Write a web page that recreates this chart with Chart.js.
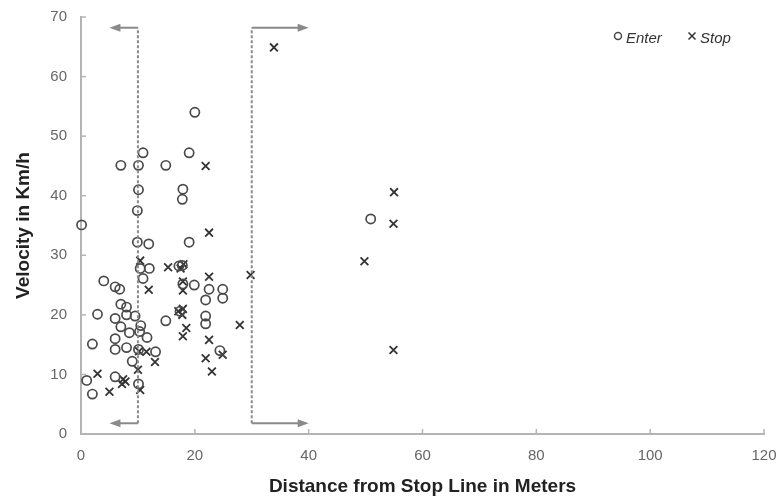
<!DOCTYPE html>
<html>
<head>
<meta charset="utf-8">
<script src="https://cdn.jsdelivr.net/npm/chart.js@4.4.0/dist/chart.umd.min.js"></script>
<style>
  html, body { margin: 0; padding: 0; background: #fff; }
  #wrap { width: 780px; height: 499px; }
</style>
</head>
<body>
<div id="wrap"><canvas id="chart" width="780" height="499"></canvas></div>
<script>
// Enter (cercles)
const enterX = [0.1, 1, 2, 2, 2.9, 4, 6, 6.8, 7, 8, 6, 8, 9.5, 7, 10.5, 8.5, 10.3, 11.6, 6, 6, 8, 10.1, 13.1, 9, 6, 10.1,
  14.9, 9.9, 9.9, 11.9, 10.4, 12, 10.9, 17.2, 17.8, 17.9, 19.9, 22.5, 24.9, 24.9, 21.9, 21.9, 21.9, 19, 24.4, 17.4,
  20, 10.9, 19, 7, 10.1, 14.9, 10.1, 17.9, 17.8, 50.9];
const enterY = [35.1, 9, 6.7, 15.1, 20.1, 25.7, 24.7, 24.3, 21.8, 21.3, 19.4, 20, 19.8, 18, 18.2, 17, 17.2, 16.2, 16, 14.2, 14.5, 14.2, 13.8, 12.2, 9.6, 8.4,
  19, 37.5, 32.2, 31.9, 27.8, 27.8, 26.1, 28.2, 28.3, 25.2, 25, 24.3, 24.3, 22.8, 22.5, 19.8, 18.5, 32.2, 14, 20.6,
  54, 47.2, 47.2, 45.1, 45.1, 45.1, 41, 41.1, 39.4, 36.1];

// Stop (croix)
const stopX = [22.5, 10.4, 15.3, 17.5, 18, 22.5, 29.8, 11.9, 17.9, 17.9, 17.9, 17.1, 17.8, 18.5, 17.9, 27.9, 22.5, 10.2,
  11.5, 13, 21.9, 24.9, 23, 10, 2.9, 7.4, 7.8, 7.2, 5, 10.4, 21.9, 33.9, 54.9, 49.8, 54.9, 55];
const stopY = [33.8, 29.1, 28, 27.8, 28.5, 26.4, 26.7, 24.2, 25.6, 24.1, 21, 20.6, 20, 17.8, 16.4, 18.3, 15.8, 13.9,
  13.8, 12.1, 12.7, 13.3, 10.5, 10.8, 10.1, 9.2, 8.8, 8.4, 7.1, 7.4, 45, 64.9, 35.3, 29, 14.1, 40.6];

const xTicks = [0, 20, 40, 60, 80, 100, 120];
const yTicks = [0, 10, 20, 30, 40, 50, 60, 70];

// Zones fléchées : lignes pointillées et flèches
const bracketX = [10, 30];
const arrowToX = [5, 40];
const bracketY = [1.8, 68.2];

const axisGray = '#b4b4b4';
const markGray = '#8a8a8a';

function toPoints(xs, ys) {
    return xs.map((x, i) => ({ x: x, y: ys[i] }));
}

// Petites graduations vers l'intérieur + zones fléchées + légende
const annotations = {
    id: 'annotations',
    afterDatasetsDraw(chart) {
        const ctx = chart.ctx;
        const xs = chart.scales.x, ys = chart.scales.y;
        const area = chart.chartArea;
        ctx.save();
        ctx.strokeStyle = axisGray;
        ctx.lineWidth = 1.5;
        xTicks.forEach(v => {
            const px = xs.getPixelForValue(v);
            ctx.beginPath(); ctx.moveTo(px, area.bottom); ctx.lineTo(px, area.bottom - 5); ctx.stroke();
        });
        yTicks.forEach(v => {
            const py = ys.getPixelForValue(v);
            ctx.beginPath(); ctx.moveTo(area.left, py); ctx.lineTo(area.left + 5, py); ctx.stroke();
        });

        ctx.strokeStyle = markGray;
        ctx.fillStyle = markGray;
        ctx.lineWidth = 2;
        bracketX.forEach((bx, i) => {
            const px = xs.getPixelForValue(bx);
            const tx = xs.getPixelForValue(arrowToX[i]);
            const dir = tx < px ? -1 : 1;
            ctx.setLineDash([3, 2]);
            ctx.beginPath();
            ctx.moveTo(px, ys.getPixelForValue(bracketY[0]));
            ctx.lineTo(px, ys.getPixelForValue(bracketY[1]));
            ctx.stroke();
            ctx.setLineDash([]);
            bracketY.forEach(by => {
                const py = ys.getPixelForValue(by);
                ctx.beginPath(); ctx.moveTo(px, py); ctx.lineTo(tx - dir * 8, py); ctx.stroke();
                ctx.beginPath();
                ctx.moveTo(tx, py);
                ctx.lineTo(tx - dir * 11, py - 4);
                ctx.lineTo(tx - dir * 11, py + 4);
                ctx.closePath();
                ctx.fill();
            });
        });

        // Légende
        ctx.font = 'italic 15px "Liberation Sans", Arial, sans-serif';
        ctx.textBaseline = 'middle';
        ctx.fillStyle = '#333';
        let lx = 618;
        const ly = 38;
        chart.data.datasets.forEach(ds => {
            ctx.strokeStyle = ds.borderColor;
            ctx.lineWidth = 1.5;
            ctx.beginPath();
            if (ds.pointStyle === 'circle') {
                ctx.arc(lx, ly - 2, 3.5, 0, Math.PI * 2);
            } else {
                ctx.moveTo(lx - 3.5, ly - 5.5); ctx.lineTo(lx + 3.5, ly + 1.5);
                ctx.moveTo(lx + 3.5, ly - 5.5); ctx.lineTo(lx - 3.5, ly + 1.5);
            }
            ctx.stroke();
            ctx.fillText(ds.label, lx + 8, ly + 1);
            lx += 74;
        });
        ctx.restore();
    }
};

const ctx = document.getElementById('chart').getContext('2d');
new Chart(ctx, {
    type: 'scatter',
    data: {
        datasets: [
            {
                label: 'Enter',
                data: toPoints(enterX, enterY),
                pointStyle: 'circle',
                pointRadius: 4.6,
                borderColor: '#4a4a4a',
                backgroundColor: 'rgba(255,255,255,0)',
                borderWidth: 1.7,
                clip: false
            },
            {
                label: 'Stop',
                data: toPoints(stopX, stopY),
                pointStyle: 'crossRot',
                pointRadius: 5.5,
                borderColor: '#333',
                backgroundColor: '#333',
                borderWidth: 1.8,
                clip: false
            }
        ]
    },
    options: {
        responsive: false,
        animation: false,
        layout: { padding: { top: 17, right: 16, left: 0, bottom: 0 } },
        plugins: { legend: { display: false }, tooltip: { enabled: false } },
        scales: {
            x: {
                type: 'linear',
                min: 0, max: 120,
                afterBuildTicks: s => { s.ticks = xTicks.map(v => ({ value: v })); },
                afterFit: s => { s.height = 65; s.paddingRight = 0; s.paddingLeft = 0; },
                grid: { display: false, drawTicks: false },
                border: { display: true, color: axisGray, width: 2 },
                ticks: { color: '#666', padding: 13, font: { size: 15, family: '"Liberation Sans", Arial' } },
                title: {
                    display: true,
                    text: 'Distance from Stop Line in Meters',
                    color: '#222',
                    padding: { top: 0, bottom: 1 },
                    font: { size: 19, weight: 'bold', family: '"Liberation Sans", Arial' }
                }
            },
            y: {
                type: 'linear',
                min: 0, max: 70,
                afterBuildTicks: s => { s.ticks = yTicks.map(v => ({ value: v })); },
                afterFit: s => { s.width = 81; s.paddingTop = 0; s.paddingBottom = 0; },
                grid: { display: false, drawTicks: false },
                border: { display: true, color: axisGray, width: 2 },
                ticks: { color: '#666', padding: 14, font: { size: 15, family: '"Liberation Sans", Arial' } },
                title: {
                    display: true,
                    text: 'Velocity in Km/h',
                    color: '#222',
                    padding: { top: 12, bottom: 0 },
                    font: { size: 19, weight: 'bold', family: '"Liberation Sans", Arial' }
                }
            }
        }
    },
    plugins: [annotations]
});
</script>
</body>
</html>
